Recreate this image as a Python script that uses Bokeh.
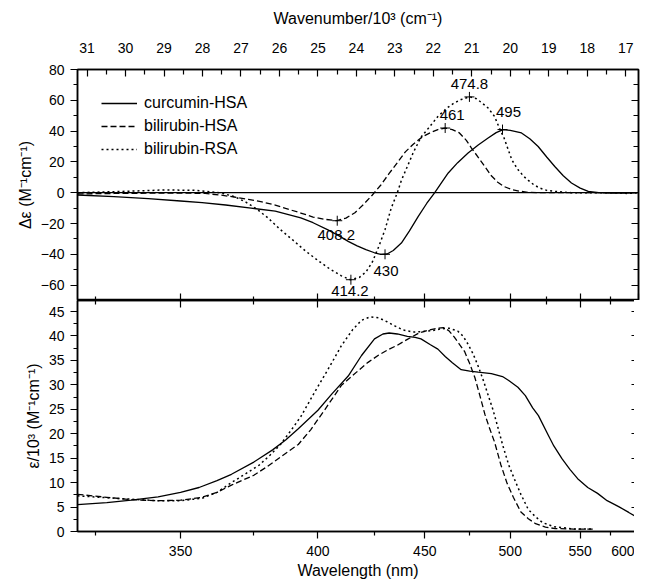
import numpy as np
from bokeh.plotting import figure
from bokeh.models import (Range1d, LinearAxis, FixedTicker, CustomJSTickFormatter,
                          Span, Legend, LegendItem, ColumnDataSource)
from bokeh.layouts import column
from bokeh.core.properties import value
from bokeh.embed import file_html
from bokeh.resources import INLINE

FONT = "Liberation Sans"

# ---------------- data ----------------
# CD spectra (top panel): wavelength (nm) and delta-epsilon (M^-1 cm^-1)
cd_curc_wl = [320, 330, 340, 350, 357, 365, 374, 383, 393, 398, 404, 409, 413, 417, 421, 425, 428, 431,
              434, 438, 442, 446.6, 451, 455.3, 459, 462.7, 468, 474, 480, 486, 491, 495.4, 500, 507.4,
              513, 518.8, 525, 530.7, 537, 543.2, 550, 556.4, 565, 575, 590, 600]
cd_curc = [-1.5, -2.5, -3.8, -5.4, -6.5, -8, -10, -12, -16.4, -19.5, -24, -28, -31.6, -34.5, -37, -39,
           -40, -39.8, -37.5, -32.7, -25, -15.4, -7, 0, 6.5, 12.8, 19.5, 25.8, 31, 35.5, 39, 41, 40.5,
           38.8, 35, 30, 23, 17, 11, 6.3, 3, 0.8, 0, -0.2, -0.3, 0]

cd_bhsa_wl = [320, 330, 340, 350, 358, 363, 368, 373, 378, 383, 387, 393, 398, 403, 408, 412, 416, 420,
              424, 428, 432, 436, 440, 444, 449, 453, 457, 461, 465, 469, 473, 476, 480, 484, 488, 492,
              496, 501, 506, 512, 520, 540, 560, 580, 600]
cd_bhsa = [-0.8, -0.5, -0.3, -0.2, -0.5, -1.5, -2.8, -4.3, -6.0, -8.0, -10.2, -13.2, -15.8, -17.3, -18.2,
           -16.5, -13.0, -7.5, -1.5, 5.0, 12.5, 19.5, 26.5, 31.5, 36.5, 39.0, 41.0, 42.0, 41.0, 38.8,
           34.0, 29.0, 23.0, 17.0, 11.0, 6.8, 4.0, 2.0, 1.0, 0.2, 0, 0, 0, 0, 0]

cd_brsa_wl = [320, 335, 345, 355, 363, 368, 372, 376, 380, 385, 390, 395, 400, 405, 410, 414, 418, 421,
              424, 427, 430, 433, 436, 438, 441, 444, 448, 452, 457, 462, 466, 470, 475, 479, 482, 486,
              490, 493, 496, 499, 501, 505, 509, 512, 516, 520, 525, 531, 543, 560, 580, 590, 600]
cd_brsa = [0, 1.0, 1.8, 1.5, 0, -2.5, -6, -10.5, -16, -24, -31, -38, -44, -49.5, -54, -56.5, -55, -51.5,
           -45, -35, -24, -10, 0, 8, 17, 26, 36, 42, 49.5, 55, 58.3, 60.5, 62.3, 61, 58.5, 55, 49.5, 42,
           35.5, 27, 21.4, 15, 10.5, 8, 5, 3, 1.5, 0.8, 0, 0, 0, -0.5, 0]

# absorption spectra (bottom panel): wavelength (nm) and epsilon/10^3 (M^-1 cm^-1)
ab_curc_wl = [320, 328, 335, 343, 350, 356, 362, 367, 375, 382, 387, 392, 400, 406, 413, 419, 425, 429,
              432, 436, 441, 445, 448, 453, 457, 461, 465, 470, 475, 480, 488, 495, 499, 505, 510, 515,
              519, 526, 530, 536, 542, 548, 556, 564, 572, 582, 591, 600]
ab_curc = [5.5, 5.9, 6.4, 7.1, 8.0, 9.0, 10.4, 11.7, 14.2, 16.7, 18.7, 21.0, 24.8, 28.2, 31.8, 36.0, 39.4,
           40.4, 40.6, 40.4, 39.9, 39.7, 39.4, 38.2, 37.3, 35.8, 34.5, 33.1, 32.8, 32.6, 32.3, 31.7, 30.9,
           29.5, 27.8, 25.3, 23.7, 19.7, 17.5, 14.9, 12.7, 10.8, 9.0, 7.8, 6.3, 5.1, 3.9, 2.7]

ab_bhsa_wl = [320, 328, 335, 343, 350, 357, 362, 367, 375, 380, 386, 392, 397, 403, 410, 417, 422, 427,
              432, 436, 441, 447, 452, 457, 460, 463, 466, 469, 472, 475, 478, 481, 484, 487, 490, 494,
              498, 502, 507, 512, 517, 524, 531, 545, 560]
ab_bhsa = [7.6, 7.0, 6.5, 6.3, 6.4, 7.0, 8.0, 9.5, 11.5, 13.3, 15.6, 17.8, 20.8, 25.0, 29.9, 32.7, 34.6,
           36.1, 37.3, 38.1, 39.3, 40.6, 41.2, 41.6, 41.7, 41.1, 39.8, 38.3, 36.8, 34.3, 31.5, 27.8, 24.0,
           21.0, 18.3, 13.6, 9.8, 7.0, 4.0, 2.6, 1.6, 0.9, 0.6, 0.5, 0.5]

ab_brsa_wl = [320, 328, 335, 343, 350, 357, 362, 367, 372, 377, 381, 385, 389, 393, 399, 405, 410, 415,
              419, 423, 427, 431, 435, 439, 444, 449, 454, 458, 463, 468, 471, 474, 477, 480, 483, 486,
              489, 492, 495, 499, 503, 507, 512, 517, 522, 530, 545, 560]
ab_brsa = [7.3, 6.9, 6.6, 6.3, 6.3, 6.8, 8.0, 10.0, 11.8, 13.6, 15.6, 17.8, 20.6, 23.5, 28.8, 33.8, 38.0,
           41.3, 43.2, 43.9, 43.7, 42.9, 42.0, 41.2, 40.8, 40.9, 41.1, 41.4, 41.6, 41.0, 40.0, 38.3, 36.3,
           33.8, 31.0, 27.9, 24.9, 21.4, 17.8, 13.6, 10.5, 7.6, 4.5, 3.0, 1.8, 1.0, 0.5, 0.5]

# marked CD extrema
peak_wl = [474.8, 461, 495, 408.2, 430, 414.2]
peak_val = [62.2, 42.0, 41.0, -18.2, -40.0, -56.5]
peak_txt = ["474.8", "461", "495", "408.2", "430", "414.2"]
label_dx = [0, 7, 6, -1, 1, -1]
label_dy = [-13, -13, -18, 14, 17, 11]

series_names = ["curcumin-HSA", "bilirubin-HSA", "bilirubin-RSA"]

# axis ticks
wn_major = list(range(17, 32))
wn_minor = [17.5, 18.5, 19.5, 20.5, 21.5, 22.5, 23.5, 24.5, 25.5, 26.5, 27.5, 28.5, 29.5, 30.5]
wl_major = [350, 400, 450, 500, 550, 600]
wl_minor = [325, 375, 425, 475, 525, 575]
cd_major = [-60, -40, -20, 0, 20, 40, 60, 80]
cd_minor = [-70, -50, -30, -10, 10, 30, 50, 70]
ab_major = [0, 5, 10, 15, 20, 25, 30, 35, 40, 45]
ab_minor = [2.5, 7.5, 12.5, 17.5, 22.5, 27.5, 32.5, 37.5, 42.5]


def wn(wl):
    """wavelength (nm) -> wavenumber in 10^3 cm^-1"""
    return 1e4 / np.asarray(wl, dtype=float)


DASHES = ["solid", "6 3", "2 3"]
LW = [1.3, 1.3, 1.5]

x_range = Range1d(1e4 / 320, 1e4 / 600)

wl_label_fmt = CustomJSTickFormatter(code="return Math.round(10000/tick).toString();")


def style_axis(ax, tick_in, tick_out, minor_in, minor_out, font_size="14px"):
    ax.major_tick_in = tick_in
    ax.major_tick_out = tick_out
    ax.minor_tick_in = minor_in
    ax.minor_tick_out = minor_out
    ax.axis_line_color = "black"
    ax.axis_line_width = 1.5
    ax.major_tick_line_color = "black"
    ax.minor_tick_line_color = "black"
    ax.major_tick_line_width = 1.2
    ax.minor_tick_line_width = 1.2
    ax.major_label_text_font = FONT
    ax.major_label_text_font_size = font_size
    ax.major_label_text_color = "black"
    ax.axis_label_text_font = FONT
    ax.axis_label_text_font_size = "16px"
    ax.axis_label_text_font_style = "normal"
    ax.axis_label_text_color = "black"


def hidden_axis(ticker, tick_in, minor_in):
    ax = LinearAxis(ticker=ticker, formatter=CustomJSTickFormatter(code="return '';"))
    style_axis(ax, tick_in, 0, minor_in, 0, font_size="0px")
    ax.major_label_standoff = 0
    return ax


# ---------------- top panel (CD) ----------------
p1 = figure(frame_width=561, frame_height=231, x_range=x_range, y_range=Range1d(-70, 80),
            x_axis_location="above", y_axis_location="left",
            output_backend="svg", toolbar_location=None,
            min_border_left=0, min_border_right=4, min_border_top=0, min_border_bottom=0)
p1.grid.visible = False
p1.outline_line_color = "black"
p1.outline_line_width = 1.5

xt = p1.xaxis[0]
xt.ticker = FixedTicker(ticks=wn_major, minor_ticks=wn_minor)
xt.axis_label = "Wavenumber/10\u00b3 (cm\u207b\u00b9)"
style_axis(xt, 7, 0, 5, 0)
xt.major_label_standoff = 17
xt.axis_label_standoff = 13

yl = p1.yaxis[0]
yl.ticker = FixedTicker(ticks=cd_major, minor_ticks=cd_minor)
yl.axis_label = "\u0394\u03b5 (M\u207b\u00b9cm\u207b\u00b9)"
style_axis(yl, 0, 7, 0, 4)
yl.major_label_standoff = 6
yl.axis_label_standoff = 4

p1.add_layout(hidden_axis(FixedTicker(ticks=list(wn(wl_major)), minor_ticks=list(wn(wl_minor))), 7, 4), "below")
p1.add_layout(hidden_axis(FixedTicker(ticks=cd_major, minor_ticks=cd_minor), 7, 5), "right")

p1.add_layout(Span(location=0, dimension="width", line_color="black", line_width=1.2))

cd_sets = [(cd_curc_wl, cd_curc), (cd_bhsa_wl, cd_bhsa), (cd_brsa_wl, cd_brsa)]
items = []
for (wl, v), dash, lw, name in zip(cd_sets, DASHES, LW, series_names):
    r = p1.line(wn(wl), v, line_color="black", line_width=lw, line_dash=dash)
    items.append(LegendItem(label=name, renderers=[r]))

legend = Legend(items=items, location="top_left", margin=24, padding=5, spacing=3,
                glyph_width=36, glyph_height=20, label_height=20, label_standoff=7,
                label_text_font=FONT, label_text_font_size="16px", label_text_color="black",
                border_line_color=None, background_fill_alpha=0)
p1.add_layout(legend)

src = ColumnDataSource(dict(x=wn(peak_wl), y=peak_val, t=peak_txt, dx=label_dx, dy=label_dy))
p1.scatter("x", "y", source=src, marker="cross", size=10, line_color="black", line_width=1)
p1.text("x", "y", text="t", source=src, x_offset="dx", y_offset="dy",
        text_align="center", text_baseline="middle", text_font=value(FONT),
        text_font_size="15px", text_color="black")

# ---------------- bottom panel (absorption) ----------------
p2 = figure(frame_width=561, frame_height=231, x_range=x_range, y_range=Range1d(0, 47.25),
            x_axis_location="below", y_axis_location="left",
            output_backend="svg", toolbar_location=None,
            min_border_left=0, min_border_right=4, min_border_top=0, min_border_bottom=0)
p2.grid.visible = False
p2.outline_line_color = "black"
p2.outline_line_width = 1.5

xb = p2.xaxis[0]
xb.ticker = FixedTicker(ticks=list(wn(wl_major)), minor_ticks=list(wn(wl_minor)))
xb.formatter = wl_label_fmt
xb.axis_label = "Wavelength (nm)"
style_axis(xb, 0, 7, 0, 4)
xb.major_label_standoff = 7
xb.axis_label_standoff = 3

yb = p2.yaxis[0]
yb.ticker = FixedTicker(ticks=ab_major, minor_ticks=ab_minor)
yb.axis_label = "\u03b5/10\u00b3 (M\u207b\u00b9cm\u207b\u00b9)"
style_axis(yb, 0, 7, 0, 4)
yb.major_label_standoff = 6
yb.axis_label_standoff = 4

p2.add_layout(hidden_axis(FixedTicker(ticks=list(wn(wl_major)), minor_ticks=list(wn(wl_minor))), 7, 4), "above")
p2.add_layout(hidden_axis(FixedTicker(ticks=ab_major, minor_ticks=ab_minor), 7, 4), "right")

ab_sets = [(ab_curc_wl, ab_curc), (ab_bhsa_wl, ab_bhsa), (ab_brsa_wl, ab_brsa)]
for (wl, v), dash, lw in zip(ab_sets, DASHES, LW):
    p2.line(wn(wl), v, line_color="black", line_width=lw, line_dash=dash)

layout = column(p1, p2, spacing=0, margin=(6, 0, 0, 13))
open("out.html", "w").write(file_html(layout, INLINE))
